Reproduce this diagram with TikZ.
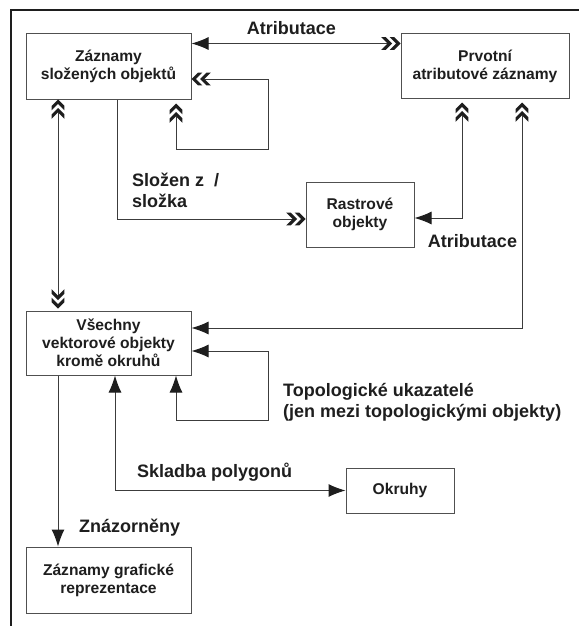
\documentclass[tikz,border=0pt]{standalone}
\usepackage{fontspec}
\setmainfont{Liberation Sans}
\usetikzlibrary{arrows.meta,positioning,calc}
\definecolor{ink}{HTML}{1E1E1E}
\definecolor{wire}{HTML}{3C3C3C}
\definecolor{edge}{HTML}{505050}

% a pair of bold chevrons used as an arrow tip
\pgfdeclarearrow{
  name=Chevrons,
  setup code={
    \pgfarrowssettipend{0pt}
    \pgfarrowssetlineend{-13pt}
    \pgfarrowssetvisualbackend{-13pt}
    \pgfarrowssetbackend{-18.9pt}
    \pgfarrowshullpoint{0pt}{0pt}
    \pgfarrowshullpoint{-18.9pt}{6.4pt}
    \pgfarrowshullpoint{-18.9pt}{-6.4pt}
  },
  drawing code={
    \pgfpathmoveto{\pgfpoint{0pt}{0pt}}
    \pgfpathlineto{\pgfpoint{-6.4pt}{6.4pt}}
    \pgfpathlineto{\pgfpoint{-10.8pt}{6.4pt}}
    \pgfpathlineto{\pgfpoint{-4.4pt}{0pt}}
    \pgfpathlineto{\pgfpoint{-10.8pt}{-6.4pt}}
    \pgfpathlineto{\pgfpoint{-6.4pt}{-6.4pt}}
    \pgfpathclose
    \pgfpathmoveto{\pgfpoint{-8.5pt}{0pt}}
    \pgfpathlineto{\pgfpoint{-14.9pt}{6.4pt}}
    \pgfpathlineto{\pgfpoint{-19.3pt}{6.4pt}}
    \pgfpathlineto{\pgfpoint{-12.9pt}{0pt}}
    \pgfpathlineto{\pgfpoint{-19.3pt}{-6.4pt}}
    \pgfpathlineto{\pgfpoint{-14.9pt}{-6.4pt}}
    \pgfpathclose
    \pgfusepathqfill
  }
}

\tikzset{
  tri/.tip={Latex[length=17pt,width=13pt,color=ink]},
  chev/.tip={Chevrons[color=ink]},
  entity/.style={draw=edge, line width=1pt, fill=white, align=center, text=ink,
    font=\bfseries\fontsize{15.6}{18}\selectfont, inner sep=0pt},
  link/.style={color=wire, line width=1pt},
  tag/.style={text=ink, font=\bfseries\fontsize{18}{21}\selectfont, inner sep=0pt},
}
\begin{document}
\begin{tikzpicture}[x=1pt,y=-1pt]
\useasboundingbox (0,0) rectangle (579,626);
% frame (top and left edges only)
\draw[ink, line width=2.6pt] (11,626) -- (11,10) -- (579,10);

% entities
\node[entity, minimum width=165pt, minimum height=65pt] (slozene) at (108.5,66.5) {Záznamy\\složených objektů};
\node[entity, minimum width=168pt, minimum height=64pt] (prvotni) at (485,66) {Prvotní\\atributové záznamy};
\node[entity, minimum width=108pt, minimum height=65pt] (rastr) at (360,214.5) {Rastrové\\objekty};
\node[entity, minimum width=165pt, minimum height=64pt] (vektor) at (108.5,343) {Všechny\\vektorové objekty\\kromě okruhů};
\node[entity, minimum width=108pt, minimum height=45pt] (okruhy) at (400,490.5) {Okruhy};
\node[entity, minimum width=165pt, minimum height=66pt] (grafika) at (108.5,580) {Záznamy grafické\\reprezentace};

% loop corners
\coordinate (loopA) at (268,149);
\coordinate (loopD) at (268,420);

% connectors
\draw[link, tri-chev] ([yshift=-10pt]slozene.north east) -- ([yshift=-10pt]prvotni.north west);
\draw[link, chev-chev, shorten >=4pt] ([yshift=-12.5pt]slozene.east) -| (loopA) -| ([xshift=67.5pt]slozene.south);
\draw[link, chev-chev, shorten >=2pt] ([xshift=-50.5pt]slozene.south) -- ([xshift=-50.5pt]vektor.north);
\draw[link, -chev] ([xshift=8.5pt]slozene.south) |- ([yshift=-4.5pt]rastr.west);
\draw[link, chev-tri, shorten <=4pt] ([xshift=-23pt]prvotni.south) |- ([yshift=-3.5pt]rastr.east);
\draw[link, chev-tri, shorten <=4pt] ([xshift=37pt]prvotni.south) |- ([yshift=15pt]vektor.east);
\draw[link, tri-tri] ([yshift=-8pt]vektor.east) -| (loopD) -| ([xshift=67.5pt]vektor.south);
\draw[link, tri-tri] ([xshift=6.5pt]vektor.south) |- (okruhy.west);
\draw[link, -tri] ([xshift=-50.5pt]vektor.south) -- ([xshift=-50.5pt]grafika.north);

% labels
\node[tag] (l1) at (291.5,28.5) {Atributace};
\node[tag, anchor=west, align=left] (l2) at (132,190) {Složen z~~/\\složka};
\node[tag] (l3) at (472.5,241) {Atributace};
\node[tag, anchor=west, align=left] (l4) at (283,402) {Topologické ukazatelé\\(jen mezi topologickými objekty)};
\node[tag, anchor=west] (l5) at (137,472) {Skladba polygonů};
\node[tag, anchor=west] (l6) at (79,528) {Znázorněny};
\end{tikzpicture}
\end{document}
